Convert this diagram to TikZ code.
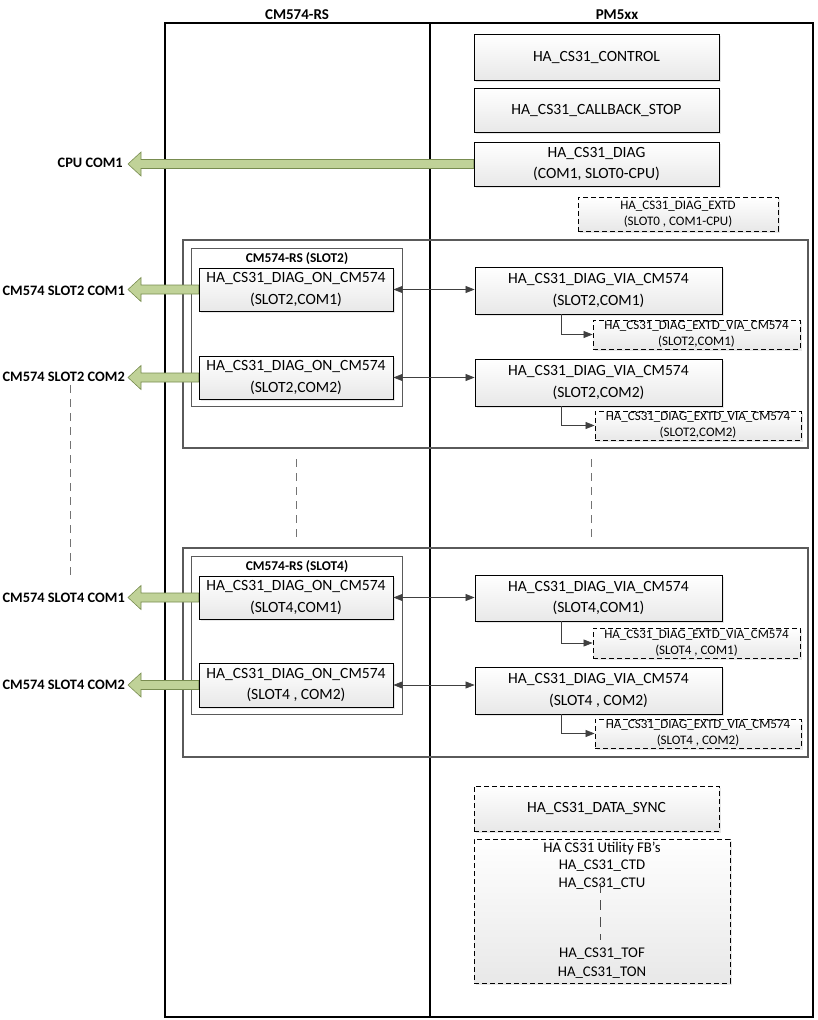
\documentclass[tikz,border=0pt]{standalone}
\usepackage{fontspec}
\setmainfont{Carlito}
\usetikzlibrary{arrows.meta,calc,shadows}
\definecolor{arrfill}{RGB}{192,210,152}
\definecolor{arrline}{RGB}{120,140,80}
\definecolor{grpline}{RGB}{90,90,90}
\tikzset{
  colbox/.style={draw=black, line width=1.4pt, inner sep=0pt},
  grpbox/.style={draw=grpline, line width=2.2pt, inner sep=0pt},
  slotbox/.style={draw=grpline, line width=0.8pt, inner sep=0pt},
  fb/.style={draw=black, line width=0.8pt, top color=white, bottom color=black!9,
    drop shadow={opacity=0.18, shadow xshift=1.5pt, shadow yshift=-1.5pt},
    inner sep=0pt, align=center, font=\fontsize{15.6}{21.5}\selectfont},
  fbd/.style={fb, dashed, dash pattern=on 5pt off 3pt},
  fbs/.style={fbd, font=\fontsize{13}{16}\selectfont},
  ttl/.style={font=\bfseries\fontsize{15}{17}\selectfont},
  sttl/.style={font=\bfseries\fontsize{13.4}{15}\selectfont},
  lbl/.style={font=\bfseries\fontsize{14.4}{16}\selectfont, anchor=east, inner sep=0pt},
  con/.style={draw=black!75, line width=0.7pt, -{Triangle[length=9pt,width=7pt]}},
  dcon/.style={draw=black!75, line width=0.7pt, {Triangle[length=9pt,width=7pt]}-{Triangle[length=9pt,width=7pt]}},
  gdash/.style={draw=black!55, line width=1pt, dash pattern=on 8pt off 6pt},
  bigarr/.style={fill=arrfill, draw=arrline, line width=0.6pt, line join=miter}
}
\newcommand{\fatarrow}[2]{%
  \path let \p1=(#1), \p2=(#2) in
    [bigarr] (\x1,\y1+4.5pt) -- (\x2+13pt,\y1+4.5pt) -- (\x2+13pt,\y1+12pt)
    -- (\x2,\y1) -- (\x2+13pt,\y1-12pt) -- (\x2+13pt,\y1-4.5pt) -- (\x1,\y1-4.5pt) -- cycle;}
\begin{document}
\begin{tikzpicture}[x=1pt,y=-1pt]
\useasboundingbox (0,0) rectangle (818,1020);
% columns
\node[colbox, minimum width=265pt, minimum height=994pt] (cmcol) at (297.5,520) {};
\node[colbox, minimum width=383pt, minimum height=994pt] (pmcol) at (621.5,520) {};
\node[ttl] (cmt) at (297,15) {CM574-RS};
\node[ttl] (pmt) at (617,15) {PM5xx};
% slot groups
\node[grpbox, minimum width=625pt, minimum height=208pt] (g2) at (495.5,344) {};
\node[grpbox, minimum width=625pt, minimum height=209pt] (g4) at (495.5,652.5) {};
\node[slotbox, minimum width=211pt, minimum height=158pt] (s2) at (296.5,327) {};
\node[slotbox, minimum width=211pt, minimum height=158pt] (s4) at (296.5,635) {};
\node[sttl] (s2t) at (297,259) {CM574-RS (SLOT2)};
\node[sttl] (s4t) at (297,567) {CM574-RS (SLOT4)};
% PM5xx top boxes
\node[fb, minimum width=245pt, minimum height=46pt] (ctrl) at (596.5,57) {HA\_CS31\_CONTROL};
\node[fb, minimum width=245pt, minimum height=44pt] (cbs) at (596.5,110) {HA\_CS31\_CALLBACK\_STOP};
\node[fb, minimum width=245pt, minimum height=44pt] (diag) at (596.5,164) {HA\_CS31\_DIAG\\(COM1, SLOT0-CPU)};
\node[fbs, minimum width=200pt, minimum height=34pt] (dext) at (678,214) {HA\_CS31\_DIAG\_EXTD\\(SLOT0 , COM1-CPU)};
% slot 2
\node[fb, minimum width=194pt, minimum height=43pt] (on21) at (296,289.5) {HA\_CS31\_DIAG\_ON\_CM574\\(SLOT2,COM1)};
\node[fb, minimum width=194pt, minimum height=43pt] (on22) at (296,377.5) {HA\_CS31\_DIAG\_ON\_CM574\\(SLOT2,COM2)};
\node[fb, minimum width=247pt, minimum height=47pt] (via21) at (598.5,290.5) {HA\_CS31\_DIAG\_VIA\_CM574\\(SLOT2,COM1)};
\node[fb, minimum width=247pt, minimum height=47pt] (via22) at (598.5,382.5) {HA\_CS31\_DIAG\_VIA\_CM574\\(SLOT2,COM2)};
\node[fbs, minimum width=207pt, minimum height=29pt] (ex21) at (696.5,334.5) {HA\_CS31\_DIAG\_EXTD\_VIA\_CM574\\(SLOT2,COM1)};
\node[fbs, minimum width=206pt, minimum height=29pt] (ex22) at (698,425.5) {HA\_CS31\_DIAG\_EXTD\_VIA\_CM574\\(SLOT2,COM2)};
% slot 4
\node[fb, minimum width=194pt, minimum height=43pt] (on41) at (296,597.5) {HA\_CS31\_DIAG\_ON\_CM574\\(SLOT4,COM1)};
\node[fb, minimum width=194pt, minimum height=44pt] (on42) at (296,685) {HA\_CS31\_DIAG\_ON\_CM574\\(SLOT4 , COM2)};
\node[fb, minimum width=247pt, minimum height=46pt] (via41) at (598.5,598) {HA\_CS31\_DIAG\_VIA\_CM574\\(SLOT4,COM1)};
\node[fb, minimum width=247pt, minimum height=47pt] (via42) at (598.5,690.5) {HA\_CS31\_DIAG\_VIA\_CM574\\(SLOT4 , COM2)};
\node[fbs, minimum width=207pt, minimum height=30pt] (ex41) at (696.5,643) {HA\_CS31\_DIAG\_EXTD\_VIA\_CM574\\(SLOT4 , COM1)};
\node[fbs, minimum width=206pt, minimum height=29pt] (ex42) at (698,733.5) {HA\_CS31\_DIAG\_EXTD\_VIA\_CM574\\(SLOT4 , COM2)};
% bottom boxes
\node[fbd, minimum width=245pt, minimum height=45pt] (sync) at (596.5,808.5) {HA\_CS31\_DATA\_SYNC};
\node[fbd, minimum width=256pt, minimum height=144pt] (util) at (602,911) {};
\node[font=\fontsize{14.8}{17.5}\selectfont, align=center, anchor=north, inner sep=0pt] (utxt) at (util.north) [yshift=-3pt] {HA CS31 Utility FB's\\HA\_CS31\_CTD\\HA\_CS31\_CTU};
\node[font=\fontsize{14.8}{19}\selectfont, align=center, anchor=south, inner sep=0pt] (ubot) at (util.south) [yshift=5pt] {HA\_CS31\_TOF\\HA\_CS31\_TON};
\draw[draw=black!70, line width=0.8pt, dash pattern=on 10pt off 7pt] (600,883) -- (600,940);
% external labels
\node[lbl] (cpu) at (123,163) {CPU COM1};
\node[lbl] (l21) at (125,291) {CM574 SLOT2 COM1};
\node[lbl] (l22) at (125,377) {CM574 SLOT2 COM2};
\node[lbl] (l41) at (125,598) {CM574 SLOT4 COM1};
\node[lbl] (l42) at (125,685) {CM574 SLOT4 COM2};
\coordinate (tcpu) at ($(cpu.east)+(5,0)$);
\coordinate (t21) at ($(l21.east)+(3,0)$);
\coordinate (t22) at ($(l22.east)+(3,0)$);
\coordinate (t41) at ($(l41.east)+(3,0)$);
\coordinate (t42) at ($(l42.east)+(3,0)$);
% fat arrows
\fatarrow{diag.west}{tcpu}
\fatarrow{on21.west}{t21}
\fatarrow{on22.west}{t22}
\fatarrow{on41.west}{t41}
\fatarrow{on42.west}{t42}
% double arrows
\draw[dcon] (on21.east) -- (on21.east -| via21.west);
\draw[dcon] (on22.east) -- (on22.east -| via22.west);
\draw[dcon] (on41.east) -- (on41.east -| via41.west);
\draw[dcon] (on42.east) -- (on42.east -| via42.west);
% elbow connectors
\draw[con] ($(via21.south west)!0.352!(via21.south east)$) |- (ex21.west);
\draw[con] ($(via22.south west)!0.352!(via22.south east)$) |- (ex22.west);
\draw[con] ($(via41.south west)!0.352!(via41.south east)$) |- (ex41.west);
\draw[con] ($(via42.south west)!0.352!(via42.south east)$) |- (ex42.west);
% continuation dashes
\draw[gdash] (70,385) -- (70,578);
\draw[gdash] (g2.south -| s2.south) ++(0,10) -- ($(g4.north -| s4.north)+(0,-8)$);
\draw[gdash] ($(g2.south)+(96,10)$) -- ($(g4.north)+(96,-8)$);
\end{tikzpicture}
\end{document}
